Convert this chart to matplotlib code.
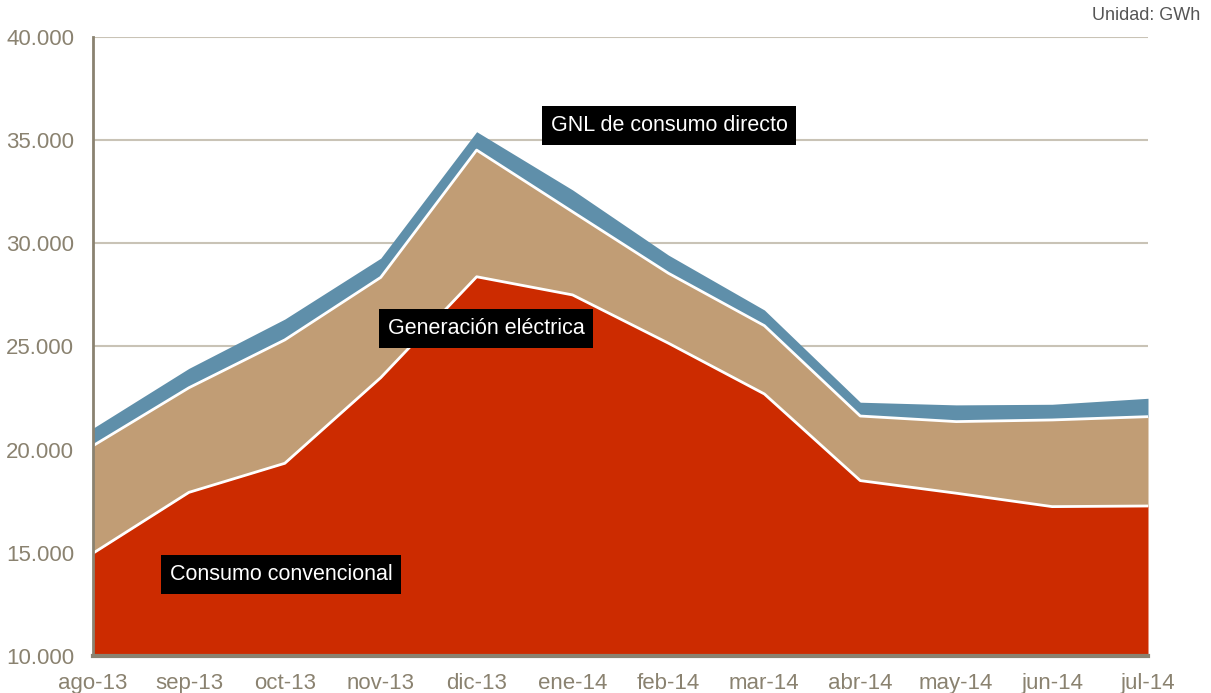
import matplotlib.pyplot as plt
import numpy as np
from matplotlib.ticker import FuncFormatter

plt.rcParams['font.family'] = ['Liberation Sans', 'DejaVu Sans']

months = ["ago-13", "sep-13", "oct-13", "nov-13", "dic-13", "ene-14",
          "feb-14", "mar-14", "abr-14", "may-14", "jun-14", "jul-14"]
# GWh por mes
convencional = [14980, 17930, 19340, 23490, 28380, 27500, 25160, 22700, 18500, 17890, 17240, 17270]
generacion = [5210, 5070, 5980, 4860, 6140, 4030, 3390, 3310, 3130, 3470, 4200, 4330]
gnl_directo = [850, 940, 1010, 930, 890, 1060, 880, 760, 670, 810, 760, 890]

red = "#CC2B00"
tan = "#C19D75"
blue = "#5F8FAA"
grid_col = "#C9C3B6"
axis_col = "#8A8270"
label_col = "#8A8270"

x = np.arange(len(months))
base = np.full(len(months), 10000)
top1 = np.array(convencional)
top2 = top1 + np.array(generacion)
top3 = top2 + np.array(gnl_directo)

fig = plt.figure(figsize=(12.11, 6.93), dpi=100)
ax = fig.add_axes([93 / 1211, 1 - 656 / 693, (1148 - 93) / 1211, (656 - 37) / 693])

ax.fill_between(x, base, top1, color=red, linewidth=0, zorder=2)
ax.fill_between(x, top1, top2, color=tan, linewidth=0, zorder=2)
ax.fill_between(x, top2, top3, color=blue, linewidth=0, zorder=2)
ax.plot(x, top1, color="white", linewidth=2, zorder=3)
ax.plot(x, top2, color="white", linewidth=2, zorder=3)

ax.set_xlim(0, len(months) - 1)
ax.set_ylim(10000, 40000)
ax.set_yticks(range(10000, 40001, 5000))
ax.yaxis.set_major_formatter(FuncFormatter(lambda v, p: f"{int(v):,}".replace(",", ".")))
ax.set_xticks(x)
ax.set_xticklabels(months)
ax.tick_params(length=0, labelsize=16, labelcolor=label_col)
ax.tick_params(axis="x", pad=12)
ax.tick_params(axis="y", pad=13.5)

ax.grid(axis="y", color=grid_col, linewidth=1.5, zorder=0)
ax.set_axisbelow(True)
for s in ["top", "right"]:
    ax.spines[s].set_visible(False)
ax.spines["left"].set_color(axis_col)
ax.spines["left"].set_linewidth(2)
ax.spines["bottom"].set_color(axis_col)
ax.spines["bottom"].set_linewidth(3)
ax.spines["left"].set_zorder(5)
ax.spines["bottom"].set_zorder(5)

box = dict(boxstyle="square,pad=0.4", facecolor="black", edgecolor="none")
ax.text(6.01, 35710, "GNL de consumo directo", color="white", fontsize=15.5,
        ha="center", va="center", bbox=box, zorder=6)
ax.text(4.10, 25870, "Generación eléctrica", color="white", fontsize=15.5,
        ha="center", va="center", bbox=box, zorder=6)
ax.text(1.96, 13950, "Consumo convencional", color="white", fontsize=15.5,
        ha="center", va="center", bbox=box, zorder=6)

fig.text(1200 / 1211, 1 - 16 / 693, "Unidad: GWh", color="#555555", fontsize=13,
         ha="right", va="center")

fig.savefig("out.png", dpi=100)
